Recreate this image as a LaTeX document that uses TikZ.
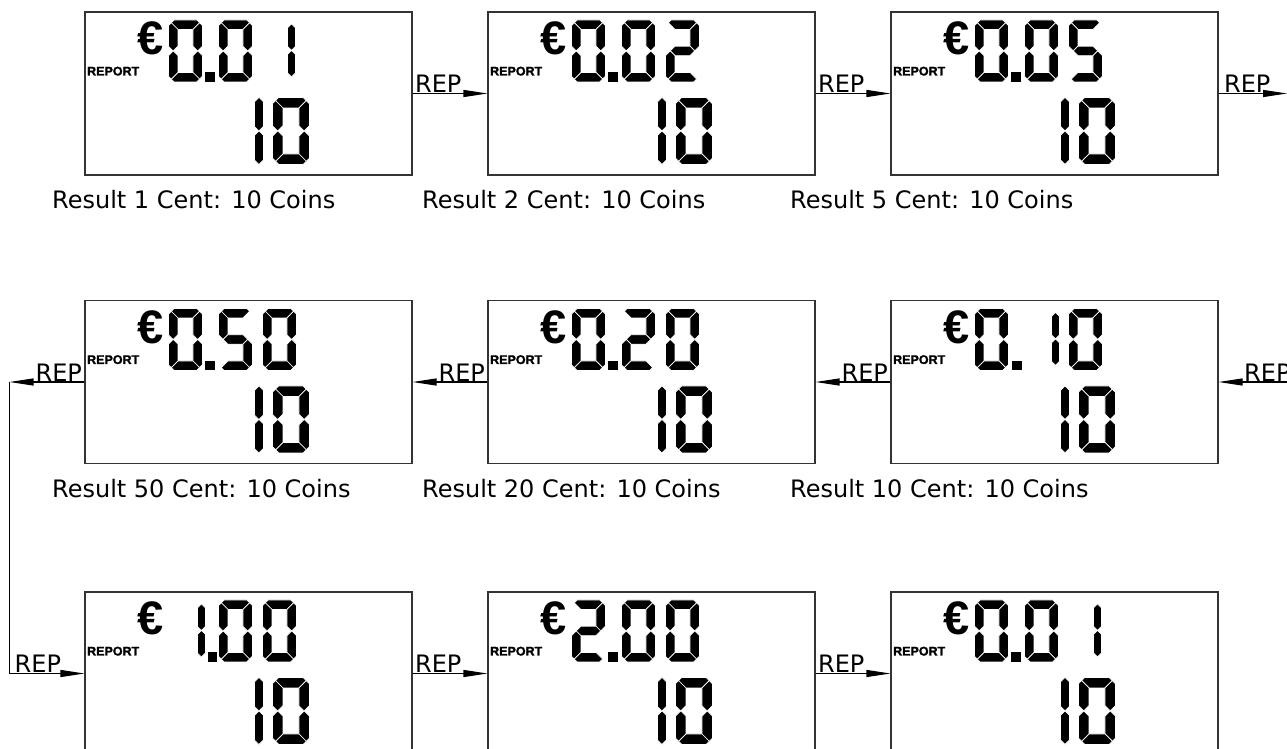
\documentclass[tikz,border=0pt]{standalone}
\usepackage{fontspec}
\setmainfont{DejaVu Sans}
\newfontfamily\arialfont{Liberation Sans}
\newfontfamily\heavyfont{Liberation Sans}[BoldFeatures={FakeBold=1.5}]
\usetikzlibrary{arrows.meta}
\tikzset{
  lcdbox/.style={draw=black!80, line width=1.1pt, minimum width=327pt, minimum height=163pt, inner sep=0pt, fill=white},
  seg/.style={fill=black, draw=white, line width=0.7pt, line join=miter},
  conn/.style={draw=black, line width=1.1pt, -{Triangle[length=24pt,width=7pt]}},
  reptext/.style={font=\fontsize{24}{24}\selectfont, inner sep=0pt},
  caption/.style={font=\fontsize{24}{24}\selectfont, inner sep=0pt, anchor=base west},
  euro/.style={font=\arialfont\bfseries\fontsize{47}{47}\selectfont, inner sep=0pt},
  report/.style={font=\heavyfont\bfseries\fontsize{12.5}{12.5}\selectfont, inner sep=0pt, anchor=base west},
}
% seven-segment pieces, local coords: top-left (0,0), y downwards
\newcommand\SegA{\filldraw[seg] (\dC,0) -- (\dW-\dC,0) -- (\dW-\dC/2,\dC/2) -- (\dW-\dT,\dT) -- (\dT,\dT) -- (\dC/2,\dC/2) -- cycle;}
\newcommand\SegD{\filldraw[seg] (\dC,\dH) -- (\dW-\dC,\dH) -- (\dW-\dC/2,\dH-\dC/2) -- (\dW-\dT,\dH-\dT) -- (\dT,\dH-\dT) -- (\dC/2,\dH-\dC/2) -- cycle;}
\newcommand\SegF{\filldraw[seg] (0,\dC) -- (\dC/2,\dC/2) -- (\dT,\dT) -- (\dT,\dM-\dT/2) -- (\dT/2,\dM) -- (0,\dM-\dT/2) -- cycle;}
\newcommand\SegE{\filldraw[seg] (0,\dM+\dT/2) -- (\dT/2,\dM) -- (\dT,\dM+\dT/2) -- (\dT,\dH-\dT) -- (\dC/2,\dH-\dC/2) -- (0,\dH-\dC) -- cycle;}
\newcommand\SegB{\filldraw[seg] (\dW,\dC) -- (\dW-\dC/2,\dC/2) -- (\dW-\dT,\dT) -- (\dW-\dT,\dM-\dT/2) -- (\dW-\dT/2,\dM) -- (\dW,\dM-\dT/2) -- cycle;}
\newcommand\SegC{\filldraw[seg] (\dW,\dM+\dT/2) -- (\dW-\dT/2,\dM) -- (\dW-\dT,\dM+\dT/2) -- (\dW-\dT,\dH-\dT) -- (\dW-\dC/2,\dH-\dC/2) -- (\dW,\dH-\dC) -- cycle;}
\newcommand\SegG{\filldraw[seg] (\dT/2,\dM) -- (\dT,\dM-\dT/2) -- (\dW-\dT,\dM-\dT/2) -- (\dW-\dT/2,\dM) -- (\dW-\dT,\dM+\dT/2) -- (\dT,\dM+\dT/2) -- cycle;}
\newcommand\sevseg[6]{\begin{scope}[shift={(#1,#2)}]
  \def\dW{#3}\def\dH{#4}\def\dT{#5}\pgfmathsetmacro\dC{0.6*#5}\pgfmathsetmacro\dM{#4/2}
  \foreach \s in {#6}{\csname Seg\s\endcsname}
  \end{scope}}
\newcommand\narrowone[4]{\begin{scope}[shift={(#1,#2)}]
  \def\dH{#3}\def\dT{#4}\pgfmathsetmacro\dM{#3/2}
  \filldraw[seg] (\dT/2,0) -- (\dT,\dT/2) -- (\dT,\dM-\dT/2) -- (\dT/2,\dM) -- (0,\dM-\dT/2) -- (0,\dT/2) -- cycle;
  \filldraw[seg] (\dT/2,\dM) -- (\dT,\dM+\dT/2) -- (\dT,\dH-\dT/2) -- (\dT/2,\dH) -- (0,\dH-\dT/2) -- (0,\dM+\dT/2) -- cycle;
  \end{scope}}
\newcommand\lcddot[2]{\fill (#1,#2) rectangle ++(9.5,9.5);}
\newcommand\upd[2]{\sevseg{#1}{8.5}{34}{62}{9.5}{#2}}
\newcommand\upone[1]{\narrowone{#1}{12.5}{53}{8}}
\newcommand\lcd[3]{%
  \node[lcdbox] (#1) at (#2) {};
  \begin{scope}[shift={(#1.north west)}]
    \node[euro] (#1eur) at (66,27) {€};
    \node[report] (#1rep) at (2.5,64) {REPORT};
    \narrowone{170}{86}{67}{9}
    \sevseg{188}{86}{37}{67}{10.5}{A,B,C,D,E,F}
    #3
  \end{scope}}
\begin{document}
\begin{tikzpicture}[x=1pt,y=-1pt]
\useasboundingbox (0,0) rectangle (1287,749);
\clip (0,0) rectangle (1287,749);
% row 1
\lcd{A}{248.5,93.5}{\upd{84}{A,B,C,D,E,F}\lcddot{121}{61}\upd{134}{A,B,C,D,E,F}\upone{203}}
\lcd{B}{651.5,93.5}{\upd{84}{A,B,C,D,E,F}\lcddot{121}{61}\upd{134}{A,B,C,D,E,F}\upd{178}{A,B,G,E,D}}
\lcd{C}{1054.5,93.5}{\upd{84}{A,B,C,D,E,F}\lcddot{121}{61}\upd{134}{A,B,C,D,E,F}\upd{178}{A,F,G,C,D}}
% row 2
\lcd{D}{248.5,382}{\upd{84}{A,B,C,D,E,F}\lcddot{121}{61}\upd{134}{A,F,G,C,D}\upd{178}{A,B,C,D,E,F}}
\lcd{E}{651.5,382}{\upd{84}{A,B,C,D,E,F}\lcddot{121}{61}\upd{134}{A,B,G,E,D}\upd{178}{A,B,C,D,E,F}}
\lcd{F}{1054.5,382}{\upd{84}{A,B,C,D,E,F}\lcddot{122}{61}\upone{161}\upd{178}{A,B,C,D,E,F}}
% row 3
\lcd{G}{248.5,673.5}{\upone{113}\lcddot{123.5}{61}\upd{134}{A,B,C,D,E,F}\upd{178}{A,B,C,D,E,F}}
\lcd{H}{651.5,673.5}{\upd{84}{A,B,G,E,D}\lcddot{121}{61}\upd{134}{A,B,C,D,E,F}\upd{178}{A,B,C,D,E,F}}
\lcd{I}{1054.5,673.5}{\upd{84}{A,B,C,D,E,F}\lcddot{121}{61}\upd{134}{A,B,C,D,E,F}\upone{203}}
% captions
\node[caption] (capA) at (52,208.3) {Result 1 Cent: 10 Coins};
\node[caption] (capB) at (422,208.3) {Result 2 Cent: 10 Coins};
\node[caption] (capC) at (790,208.3) {Result 5 Cent: 10 Coins};
\node[caption] (capD) at (52,497) {Result 50 Cent: 10 Coins};
\node[caption] (capE) at (422,497) {Result 20 Cent: 10 Coins};
\node[caption] (capF) at (790,497) {Result 10 Cent: 10 Coins};
% connectors
\coordinate (R1) at (1287,93.5);
\coordinate (R2) at (1292,382);
\coordinate (L1) at (9.5,382);
\draw[conn] (A.east) -- (B.west) node[reptext, pos=0, anchor=base west, xshift=2pt, yshift=1pt] (rAB) {REP};
\draw[conn] (B.east) -- (C.west) node[reptext, pos=0, anchor=base west, xshift=2pt, yshift=1pt] (rBC) {REP};
\draw[conn] (C.east) -- (R1) node[reptext, pos=0, anchor=base west, xshift=5pt, yshift=1pt] (rC) {REP};
\draw[conn] (R2) -- (F.east) node[reptext, pos=0, anchor=base east, xshift=-1pt, yshift=1pt] (rF) {REP};
\draw[conn] (F.west) -- (E.east) node[reptext, pos=0, anchor=base east, xshift=-2pt, yshift=1pt] (rFE) {REP};
\draw[conn] (E.west) -- (D.east) node[reptext, pos=0, anchor=base east, xshift=-2pt, yshift=1pt] (rED) {REP};
\draw[conn] (D.west) -- (L1) node[reptext, pos=0, anchor=base east, xshift=-2pt, yshift=1pt] (rD) {REP};
\draw[conn] (L1) |- (G.west);
\node[reptext, anchor=base west, xshift=5pt, yshift=1pt] (rG) at (L1 |- G.west) {REP};
\draw[conn] (G.east) -- (H.west) node[reptext, pos=0, anchor=base west, xshift=2pt, yshift=1pt] (rGH) {REP};
\draw[conn] (H.east) -- (I.west) node[reptext, pos=0, anchor=base west, xshift=2pt, yshift=1pt] (rHI) {REP};
\end{tikzpicture}
\end{document}
